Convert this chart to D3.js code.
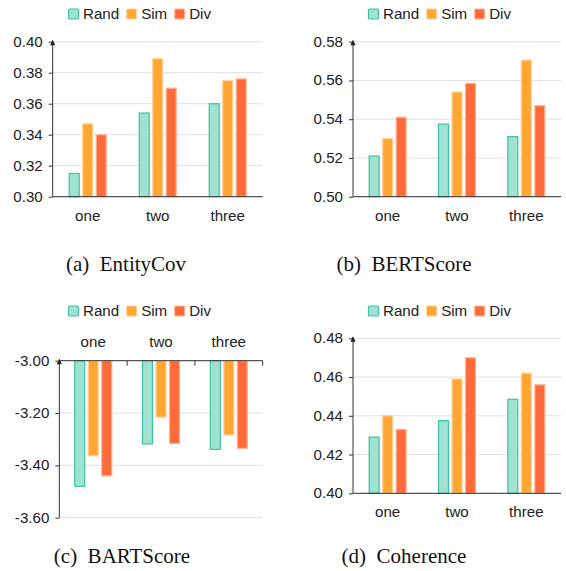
<!DOCTYPE html>
<html>
<head>
<meta charset="utf-8">
<script src="https://cdn.jsdelivr.net/npm/d3@7"></script>
<style>
  body { margin: 0; background: #fff; }
  svg { display: block; }
  .tick text, .lbl { font-family: "Liberation Sans", Arial, sans-serif; fill: #222; }
  .cap { font-family: "Liberation Serif", "Times New Roman", serif; font-size: 21px; fill: #111; white-space: pre; }
</style>
</head>
<body>
<div id="chart"></div>
<script>
const categories = ['one', 'two', 'three'];
const series = ['Rand', 'Sim', 'Div'];

// values per series (Rand, Sim, Div), each over categories
const entityCov = [[0.315, 0.354, 0.360], [0.347, 0.389, 0.375], [0.340, 0.370, 0.376]];
const bertScore = [[0.521, 0.5375, 0.531], [0.530, 0.554, 0.5705], [0.541, 0.5585, 0.547]];
const bartScore = [[-3.48, -3.318, -3.339], [-3.363, -3.216, -3.284], [-3.44, -3.316, -3.335]];
const coherence = [[0.429, 0.4375, 0.4485], [0.440, 0.459, 0.462], [0.433, 0.470, 0.456]];

const entityCovTicks = [0.30, 0.32, 0.34, 0.36, 0.38, 0.40];
const bertScoreTicks = [0.50, 0.52, 0.54, 0.56, 0.58];
const bartScoreTicks = [-3.60, -3.40, -3.20, -3.00];
const coherenceTicks = [0.40, 0.42, 0.44, 0.46, 0.48];

const captions = ['(a)  EntityCov', '(b)  BERTScore', '(c)  BARTScore', '(d)  Coherence'];

const fills = ['#a0e1d1', '#ffa633', '#ff6a3a'];
const strokes = ['#3ec4a2', '#ffd39a', '#ffb595'];
const sx = 1.08; // chart text is a bit wide
const fs = 14;

const svg = d3.select('#chart').append('svg')
  .attr('width', 566)
  .attr('height', 571);

const panels = [
  {values: entityCov, ticks: entityCovTicks, caption: captions[0], left: 52.7, right: 262.7, top: 41.7, bottom: 196.7, legendX: 68, legendY: 14, capX: 126, capY: 271, hang: false},
  {values: bertScore, ticks: bertScoreTicks, caption: captions[1], left: 353, right: 561, top: 41.7, bottom: 196.7, legendX: 368, legendY: 14, capX: 404, capY: 271, hang: false},
  {values: bartScore, ticks: bartScoreTicks, caption: captions[2], left: 59.3, right: 262.7, top: 360.7, bottom: 517.7, legendX: 68, legendY: 311, capX: 122, capY: 563, hang: true},
  {values: coherence, ticks: coherenceTicks, caption: captions[3], left: 353, right: 561, top: 338.3, bottom: 493.3, legendX: 368, legendY: 311, capX: 404, capY: 563, hang: false}
];

const addText = (g, x, y, str, anchor) => g.append('text')
  .attr('class', 'lbl')
  .attr('transform', `translate(${x},${y}) scale(${sx},1)`)
  .attr('text-anchor', anchor)
  .style('font-size', fs + 'px')
  .text(str);

const drawPanel = p => {
  const g = svg.append('g');
  const x0 = d3.scaleBand().domain(categories).range([p.left, p.right]);
  const x1 = d3.scaleBand().domain(series).range([-18.5, 18.5]).paddingInner(0.26);
  const y = d3.scaleLinear().domain(d3.extent(p.ticks)).range([p.bottom, p.top]);

  g.append('g').selectAll('line')
    .data(p.ticks)
    .join('line')
    .attr('x1', p.left).attr('x2', p.right)
    .attr('y1', d => y(d)).attr('y2', d => y(d))
    .attr('stroke', '#e0e0e0');

  const base = p.hang ? y.domain()[1] : y.domain()[0];
  const bars = series.flatMap((s, i) => categories.map((c, j) => ({s, i, c, v: p.values[i][j]})));
  g.append('g').selectAll('rect')
    .data(bars)
    .join('rect')
    .attr('x', d => x0(d.c) + x0.bandwidth() / 2 + x1(d.s))
    .attr('width', x1.bandwidth())
    .attr('y', d => Math.min(y(d.v), y(base)))
    .attr('height', d => Math.abs(y(d.v) - y(base)))
    .attr('fill', d => fills[d.i])
    .attr('stroke', d => strokes[d.i])
    .attr('stroke-width', 1.2);

  // y axis
  const gy = g.append('g')
    .attr('transform', `translate(${p.left},0)`)
    .call(d3.axisLeft(y).tickValues(p.ticks).tickSize(4).tickPadding(6).tickFormat(d => d.toFixed(2)));
  gy.select('.domain').remove();
  gy.selectAll('.tick line').attr('stroke', '#333');
  gy.selectAll('.tick text')
    .attr('x', -10 / sx)
    .attr('transform', `scale(${sx},1)`)
    .style('font-size', fs + 'px')
    .attr('fill', '#222');
  g.append('line')
    .attr('x1', p.left).attr('x2', p.left)
    .attr('y1', p.bottom).attr('y2', p.top - 1)
    .attr('stroke', '#333');
  g.append('path')
    .attr('d', `M${p.left},${p.top - 2}L${p.left - 2.6},${p.top + 3.5}L${p.left + 2.6},${p.top + 3.5}Z`)
    .attr('fill', '#222');

  // x axis
  const ax = p.hang ? p.top : p.bottom;
  g.append('line')
    .attr('x1', p.left).attr('x2', p.right)
    .attr('y1', ax).attr('y2', ax)
    .attr('stroke', '#333');
  if (p.hang) {
    g.append('g').selectAll('line')
      .data(categories)
      .join('line')
      .attr('x1', d => x0(d) + x0.bandwidth()).attr('x2', d => x0(d) + x0.bandwidth())
      .attr('y1', ax).attr('y2', ax + 5)
      .attr('stroke', '#333');
  }
  categories.forEach(c => {
    addText(g, x0(c) + x0.bandwidth() / 2, p.hang ? ax - 14 : ax + 24, c, 'middle');
  });

  // legend
  let lx = p.legendX;
  series.forEach((s, i) => {
    g.append('rect')
      .attr('x', lx + 0.5).attr('y', p.legendY - 5)
      .attr('width', 10).attr('height', 10)
      .attr('rx', 1)
      .attr('fill', fills[i])
      .attr('stroke', strokes[i])
      .attr('stroke-width', 1.2);
    const t = addText(g, lx + 15, p.legendY + 5, s, 'start');
    lx += 15 + t.node().getComputedTextLength() * sx + 7;
  });

  g.append('text')
    .attr('class', 'cap')
    .attr('x', p.capX).attr('y', p.capY)
    .attr('text-anchor', 'middle')
    .text(p.caption);
};

panels.forEach(drawPanel);
</script>
</body>
</html>
